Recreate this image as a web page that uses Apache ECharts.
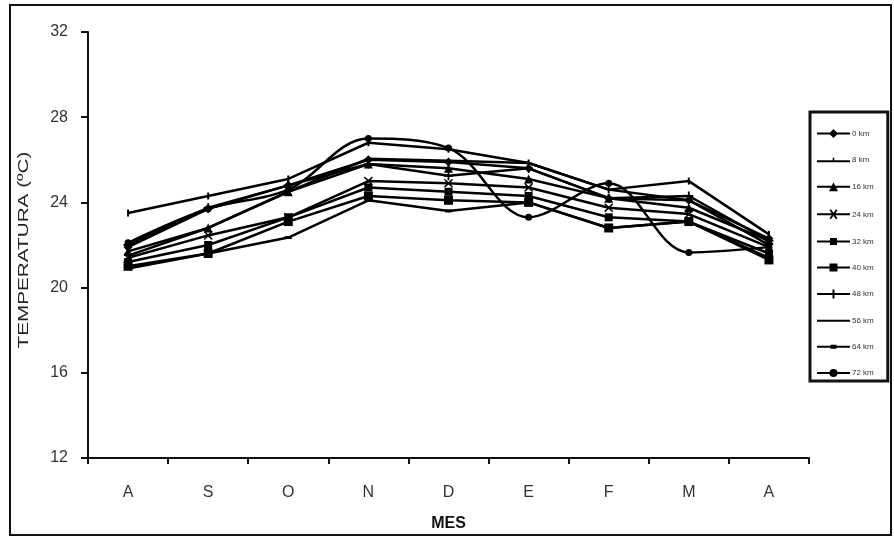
<!DOCTYPE html>
<html>
<head>
<meta charset="utf-8">
<script src="https://cdn.jsdelivr.net/npm/echarts@6/dist/echarts.min.js"></script>
<style>
  html, body { margin: 0; padding: 0; background: #fff; }
  #chart { width: 894px; height: 537px; }
</style>
</head>
<body>
<div id="chart"></div>
<script>
// Months (August to April)
const months = ['A', 'S', 'O', 'N', 'D', 'E', 'F', 'M', 'A'];
const yTicks = [12, 16, 20, 24, 28, 32];

// Mean temperature (ºC) per distance
const t0km  = [21.9, 23.7, 24.8, 26.0, 25.9, 25.6, 24.2, 24.1, 22.3];
const t8km  = [23.5, 24.3, 25.1, 26.8, 26.5, 25.85, 24.6, 25.0, 22.5];
const t16km = [21.7, 22.8, 24.5, 25.8, 25.6, 25.1, 24.2, 23.75, 22.2];
const t24km = [21.4, 22.45, 23.3, 25.0, 24.9, 24.7, 23.75, 23.45, 21.9];
const t32km = [21.2, 22.0, 23.3, 24.7, 24.5, 24.3, 23.3, 23.1, 21.6];
const t40km = [21.0, 21.6, 23.1, 24.3, 24.1, 24.0, 22.8, 23.1, 21.3];
const t48km = [22.0, 23.75, 24.8, 25.8, 25.25, 25.6, 24.2, 24.3, 22.2];
const t56km = [21.5, 22.8, 24.5, 26.05, 25.95, 25.85, 24.6, 24.1, 22.0];
const t64km = [20.9, 21.6, 22.35, 24.1, 23.6, 24.0, 22.8, 23.1, 21.4];
const t72km = [22.1, 23.7, 24.6, 27.0, 26.55, 23.3, 24.9, 21.65, 21.9];

const seriesNames = ['0 km', '8 km', '16 km', '24 km', '32 km', '40 km', '48 km', '56 km', '64 km', '72 km'];
const seriesData = [t0km, t8km, t16km, t24km, t32km, t40km, t48km, t56km, t64km, t72km];

// Point markers used on the lines
const plusPath = 'path://M4,0 L6,0 L6,4 L10,4 L10,6 L6,6 L6,10 L4,10 L4,6 L0,6 L0,4 L4,4 Z';
const crossPath = 'path://M1,0 L5,3.6 L9,0 L10,1 L6.4,5 L10,9 L9,10 L5,6.4 L1,10 L0,9 L3.6,5 L0,1 Z';
const markers = [
  { symbol: 'diamond', size: 9 },
  { symbol: 'rect', size: [2, 7] },
  { symbol: 'triangle', size: 9 },
  { symbol: crossPath, size: 9 },
  { symbol: 'rect', size: 8 },
  { symbol: 'rect', size: 9 },
  { symbol: plusPath, size: 9 },
  { symbol: 'none', size: 0 },
  { symbol: 'rect', size: [7, 3] },
  { symbol: 'circle', size: 7 }
];

// Legend keys: a short line with the marker drawn over its middle (33 x 10 box)
const keyLine = 'M0,4 L33,4 L33,6 L0,6 Z ';
const legendIcons = [
  'path://' + keyLine + 'M16.5,0.5 L21,5 L16.5,9.5 L12,5 Z',
  'path://' + keyLine + 'M15.7,1.5 L17.3,1.5 L17.3,6 L15.7,6 Z',
  'path://' + keyLine + 'M16.5,0.5 L21,9.5 L12,9.5 Z',
  'path://' + keyLine + 'M12.5,1 L14,0 L16.5,3.5 L19,0 L20.5,1 L17.7,5 L20.5,9 L19,10 L16.5,6.5 L14,10 L12.5,9 L15.3,5 Z',
  'path://' + keyLine + 'M13,1.5 L20,1.5 L20,8.5 L13,8.5 Z',
  'path://' + keyLine + 'M12.5,1 L20.5,1 L20.5,9 L12.5,9 Z',
  'path://' + keyLine + 'M15.5,0.5 L17.5,0.5 L17.5,9.5 L15.5,9.5 Z',
  'path://M0,4 L33,4 L33,6 L0,6 Z',
  'path://' + keyLine + 'M13.5,3 L19.5,3 L19.5,7 L13.5,7 Z',
  'path://' + keyLine + 'M12.5,5 A4,4 0 1,1 20.5,5 A4,4 0 1,1 12.5,5 Z'
];

const font = 'Liberation Sans, Arial, sans-serif';
const chart = echarts.init(document.getElementById('chart'), null, { renderer: 'canvas' });

const series = seriesNames.map((name, i) => ({
  name: name,
  type: 'line',
  data: seriesData[i],
  smooth: name === '72 km' ? 0.35 : false,
  symbol: markers[i].symbol,
  symbolSize: markers[i].size,
  showSymbol: markers[i].symbol !== 'none',
  itemStyle: { color: '#000' },
  lineStyle: { color: '#000', width: 2.5 },
  emphasis: { disabled: true },
  animation: false
}));

chart.setOption({
  backgroundColor: '#fff',
  animation: false,
  grid: { left: 88, right: 85, top: 32, bottom: 78 },
  graphic: [
    {
      type: 'rect',
      shape: { x: 10, y: 5, width: 881, height: 530 },
      style: { fill: null, stroke: '#111', lineWidth: 2 },
      silent: true
    },
    {
      type: 'text',
      x: 24,
      y: 250,
      rotation: Math.PI / 2,
      scaleX: 1.38,
      style: {
        text: 'TEMPERATURA (ºC)',
        fill: '#222',
        font: '15px ' + font,
        align: 'center',
        verticalAlign: 'middle'
      },
      silent: true
    }
  ],
  legend: {
    orient: 'vertical',
    left: 810,
    top: 112,
    padding: [17, 14, 4, 7],
    itemGap: 18.1,
    itemWidth: 33,
    itemHeight: 10,
    symbolKeepAspect: true,
    borderColor: '#111',
    borderWidth: 3,
    backgroundColor: '#fff',
    textStyle: { fontSize: 8, color: '#333', fontFamily: font, padding: [0, 0, 0, -3] },
    data: seriesNames.map((name, i) => ({ name: name, icon: legendIcons[i] }))
  },
  xAxis: {
    type: 'category',
    data: months,
    boundaryGap: true,
    name: 'MES',
    nameLocation: 'middle',
    nameGap: 58,
    nameTextStyle: { fontSize: 16, fontWeight: 'bold', color: '#111', fontFamily: font },
    axisLine: { lineStyle: { color: '#111', width: 2 } },
    axisTick: { show: true, length: 6, inside: false, lineStyle: { color: '#111', width: 2 } },
    axisLabel: { fontSize: 16, color: '#333', margin: 27, fontFamily: font },
    splitLine: { show: false }
  },
  yAxis: {
    type: 'value',
    min: yTicks[0],
    max: yTicks[yTicks.length - 1],
    interval: 4,
    axisLine: { show: true, lineStyle: { color: '#111', width: 2 } },
    axisTick: { show: true, length: 7, lineStyle: { color: '#111', width: 2 } },
    axisLabel: { fontSize: 16, color: '#333', margin: 20, fontFamily: font },
    splitLine: { show: false }
  },
  series: series
});
</script>
</body>
</html>
